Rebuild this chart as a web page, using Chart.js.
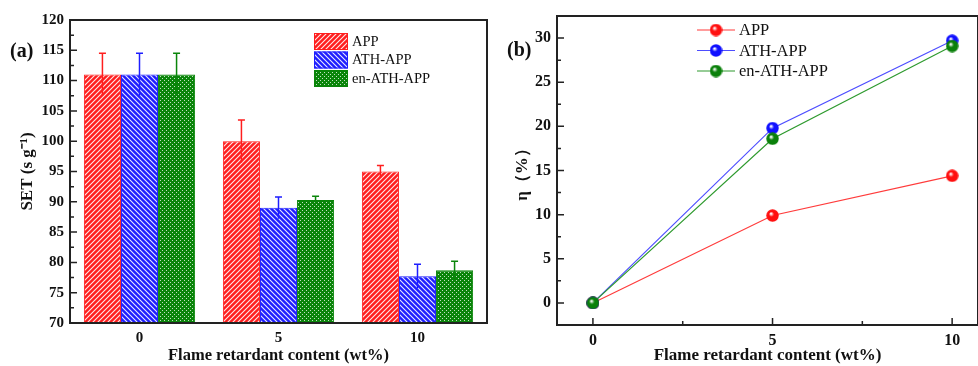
<!DOCTYPE html>
<html><head><meta charset="utf-8">
<script src="https://cdn.jsdelivr.net/npm/chart.js@4"></script>
<style>
body{margin:0;background:#fff;width:978px;height:366px;overflow:hidden;position:relative}
#ca{position:absolute;left:0;top:0}
#cb{position:absolute;left:490px;top:0}
</style></head><body>
<canvas id="ca" width="490" height="366"></canvas>
<canvas id="cb" width="488" height="366"></canvas>
<script>
// ---------- data ----------
const categories = ['0', '5', '10'];
const seriesNames = ['APP', 'ATH-APP', 'en-ATH-APP'];
const setAPP = [111, 100, 95];
const setATH = [111, 89, 77.7];
const setEN = [111, 90.3, 78.7];
const errAPP = [3.5, 3.5, 1.0];
const errATH = [3.5, 1.8, 2.0];
const errEN = [3.5, 0.6, 1.5];
const setTicks = [70, 75, 80, 85, 90, 95, 100, 105, 110, 115, 120];

const xContent = [0, 5, 10];
const etaAPP = [0, 9.9, 14.4];
const etaATH = [0, 19.8, 29.7];
const etaEN = [0, 18.6, 29.1];
const etaTicks = [0, 5, 10, 15, 20, 25, 30];
const xTicks = [0, 5, 10];

// ---------- styles ----------
const SERIF = '"Liberation Serif", "Times New Roman", serif';
const barColors = ['#ff1e1e', '#1e1eff', '#0a850a'];
const lineColors = ['#ff3b3b', '#4d4dff', '#2e9a2e'];
const markColors = ['#ff1010', '#1010ff', '#0a800a'];

function hatch(color, dir) {
  const n = 5;
  const c = document.createElement('canvas'); c.width = c.height = n;
  const g = c.getContext('2d');
  g.fillStyle = color; g.fillRect(0, 0, n, n);
  g.strokeStyle = 'rgba(255,255,255,0.9)'; g.lineWidth = 1.1;
  g.beginPath();
  if (dir > 0) {
    g.moveTo(-1, n + 1); g.lineTo(n + 1, -1);
    g.moveTo(-1, 1); g.lineTo(1, -1);
    g.moveTo(n - 1, n + 1); g.lineTo(n + 1, n - 1);
  } else {
    g.moveTo(-1, -1); g.lineTo(n + 1, n + 1);
    g.moveTo(n - 1, -1); g.lineTo(n + 1, 1);
    g.moveTo(-1, n - 1); g.lineTo(1, n + 1);
  }
  g.stroke();
  return g.createPattern(c, 'repeat');
}
function dots(color) {
  const c = document.createElement('canvas'); c.width = c.height = 4;
  const g = c.getContext('2d');
  g.fillStyle = color; g.fillRect(0, 0, 4, 4);
  g.fillStyle = 'rgba(255,255,255,0.75)';
  g.fillRect(0, 0, 1, 1); g.fillRect(2, 2, 1, 1);
  return g.createPattern(c, 'repeat');
}
const patterns = [hatch(barColors[0], 1), hatch(barColors[1], -1), dots(barColors[2])];

function sphere(color) {
  const s = 13, c = document.createElement('canvas'); c.width = c.height = s;
  const g = c.getContext('2d');
  const gr = g.createRadialGradient(s * 0.38, s * 0.35, 0.5, s / 2, s / 2, s / 2);
  gr.addColorStop(0, '#ffffff');
  gr.addColorStop(0.35, color);
  gr.addColorStop(1, color);
  g.fillStyle = gr;
  g.beginPath(); g.arc(s / 2, s / 2, s / 2 - 0.3, 0, Math.PI * 2); g.fill();
  return c;
}
const spheres = markColors.map(sphere);

// ---------- plugins ----------
function frameAndTicks(opts) {
  return {
    id: 'frame',
    afterDraw(chart) {
      const { ctx, chartArea: a, scales } = chart;
      ctx.save();
      ctx.strokeStyle = '#222'; ctx.lineWidth = 2;
      ctx.strokeRect(a.left, a.top, a.right - a.left, a.bottom - a.top);
      ctx.lineWidth = 1.5; ctx.beginPath();
      const ys = scales.y;
      opts.yMajor.forEach((v, i) => {
        const p = ys.getPixelForValue(v);
        ctx.moveTo(a.left, p); ctx.lineTo(a.left + 7, p);
        if (i < opts.yMajor.length - 1) {
          const m = ys.getPixelForValue((v + opts.yMajor[i + 1]) / 2);
          ctx.moveTo(a.left, m); ctx.lineTo(a.left + 4, m);
        }
      });
      if (opts.xMajor) {
        const xs = scales.x;
        opts.xMajor.forEach((v, i) => {
          const p = xs.getPixelForValue(v);
          ctx.moveTo(p, a.bottom); ctx.lineTo(p, a.bottom - 7);
          if (i < opts.xMajor.length - 1) {
            const m = xs.getPixelForValue((v + opts.xMajor[i + 1]) / 2);
            ctx.moveTo(m, a.bottom); ctx.lineTo(m, a.bottom - 4);
          }
        });
      }
      ctx.stroke();
      ctx.fillStyle = '#111';
      ctx.font = 'bold 20px ' + SERIF;
      ctx.textBaseline = 'middle'; ctx.textAlign = 'left';
      ctx.fillText(opts.tag, opts.tagX, opts.tagY);
      ctx.restore();
    }
  };
}

const errs = [errAPP, errATH, errEN];
const errorBars = {
  id: 'errbars',
  afterDatasetsDraw(chart) {
    const { ctx, scales: { y } } = chart;
    ctx.save(); ctx.lineWidth = 1.5;
    chart.data.datasets.forEach((ds, i) => {
      const meta = chart.getDatasetMeta(i);
      ctx.strokeStyle = barColors[i];
      meta.data.forEach((el, j) => {
        const v = ds.data[j], e = errs[i][j];
        const top = y.getPixelForValue(v + e), bot = y.getPixelForValue(v - e);
        ctx.beginPath();
        ctx.moveTo(el.x, bot); ctx.lineTo(el.x, top);
        ctx.moveTo(el.x - 3.5, top); ctx.lineTo(el.x + 3.5, top);
        ctx.stroke();
      });
    });
    ctx.restore();
  }
};

const legendA = {
  id: 'legA',
  afterDraw(chart) {
    const { ctx } = chart;
    ctx.save();
    chart.data.datasets.forEach((ds, i) => {
      const y = 33 + i * 18.5;
      ctx.fillStyle = patterns[i];
      ctx.fillRect(314, y, 34, 17);
      ctx.strokeStyle = barColors[i]; ctx.lineWidth = 1;
      ctx.strokeRect(314.5, y + 0.5, 33, 16);
      ctx.fillStyle = '#111';
      ctx.font = '14.5px ' + SERIF;
      ctx.textBaseline = 'middle'; ctx.textAlign = 'left';
      ctx.fillText(ds.label, 352, y + 9);
    });
    ctx.restore();
  }
};

const legendB = {
  id: 'legB',
  afterDraw(chart) {
    const { ctx } = chart;
    ctx.save();
    chart.data.datasets.forEach((ds, i) => {
      const y = 30 + i * 20.5;
      ctx.strokeStyle = lineColors[i]; ctx.lineWidth = 1.2;
      ctx.beginPath(); ctx.moveTo(207, y); ctx.lineTo(245, y); ctx.stroke();
      ctx.drawImage(spheres[i], 226 - 6.5, y - 6.5);
      ctx.fillStyle = '#111';
      ctx.font = '16.5px ' + SERIF;
      ctx.textBaseline = 'middle'; ctx.textAlign = 'left';
      ctx.fillText(ds.label, 249, y + 1);
    });
    ctx.restore();
  }
};

// ---------- chart (a) ----------
const setData = [setAPP, setATH, setEN];
new Chart(document.getElementById('ca'), {
  type: 'bar',
  data: {
    labels: categories,
    datasets: seriesNames.map((n, i) => ({
      label: n,
      data: setData[i],
      backgroundColor: patterns[i],
      borderColor: barColors[i],
      borderWidth: 1,
      barPercentage: 1.0,
      categoryPercentage: 0.8
    }))
  },
  options: {
    responsive: false, animation: false, devicePixelRatio: 1,
    layout: { autoPadding: false, padding: { top: 20, right: 3, left: 0, bottom: 0 } },
    plugins: { legend: { display: false }, tooltip: { enabled: false } },
    scales: {
      x: {
        grid: { display: false, drawTicks: false }, border: { display: false },
        ticks: { color: '#111', font: { family: SERIF, size: 15, weight: 'bold' }, padding: 6 },
        title: { display: true, text: 'Flame retardant content (wt%)', color: '#111',
          font: { family: SERIF, size: 16.5, weight: 'bold' }, padding: { top: 0, bottom: 0 } },
        afterFit(s) { s.height = 43; s.paddingLeft = 0; s.paddingRight = 0; }
      },
      y: {
        min: 70, max: 120,
        afterBuildTicks(s) { s.ticks = setTicks.map(v => ({ value: v })); },
        grid: { display: false, drawTicks: false }, border: { display: false },
        ticks: { color: '#111', font: { family: SERIF, size: 15, weight: 'bold' }, padding: 6 },
        title: { display: true, text: 'SET (s g\u207B\u00B9)', color: '#111',
          font: { family: SERIF, size: 17, weight: 'bold' }, padding: { top: 17, bottom: 0 } },
        afterFit(s) { s.width = 70; }
      }
    }
  },
  plugins: [errorBars, legendA, frameAndTicks({ yMajor: setTicks, tag: '(a)', tagX: 10, tagY: 52 })]
});

// ---------- chart (b) ----------
const etaData = [etaAPP, etaATH, etaEN];
new Chart(document.getElementById('cb'), {
  type: 'line',
  data: {
    datasets: seriesNames.map((n, i) => ({
      label: n,
      data: xContent.map((x, j) => ({ x: x, y: etaData[i][j] })),
      borderColor: lineColors[i],
      borderWidth: 1.2,
      pointStyle: spheres[i],
      pointRadius: 6.5,
      fill: false,
      tension: 0,
      order: 2 - i
    }))
  },
  options: {
    responsive: false, animation: false, devicePixelRatio: 1,
    layout: { autoPadding: false, padding: { top: 16, right: 0, left: 0, bottom: 0 } },
    plugins: { legend: { display: false }, tooltip: { enabled: false } },
    scales: {
      x: {
        type: 'linear', min: -1, max: 10.72,
        afterBuildTicks(s) { s.ticks = xTicks.map(v => ({ value: v })); },
        grid: { display: false, drawTicks: false }, border: { display: false },
        ticks: { color: '#111', font: { family: SERIF, size: 16, weight: 'bold' }, padding: 6 },
        title: { display: true, text: 'Flame retardant content (wt%)', color: '#111',
          font: { family: SERIF, size: 17, weight: 'bold' }, padding: { top: 0, bottom: 0 } },
        afterFit(s) { s.height = 41; s.paddingLeft = 0; s.paddingRight = 0; }
      },
      y: {
        min: -2.5, max: 32.5,
        afterBuildTicks(s) { s.ticks = etaTicks.map(v => ({ value: v })); },
        grid: { display: false, drawTicks: false }, border: { display: false },
        ticks: { color: '#111', font: { family: SERIF, size: 16, weight: 'bold' }, padding: 6 },
        title: { display: true, text: '\u03B7\uFF08%\uFF09', color: '#111',
          font: { family: SERIF, size: 17, weight: 'bold' }, padding: { top: 22, bottom: 0 } },
        afterFit(s) { s.width = 67; s.paddingTop = 0; s.paddingBottom = 0; }
      }
    }
  },
  plugins: [legendB, frameAndTicks({ yMajor: etaTicks, xMajor: xTicks, tag: '(b)', tagX: 17, tagY: 51 })]
});
</script>
</body></html>
